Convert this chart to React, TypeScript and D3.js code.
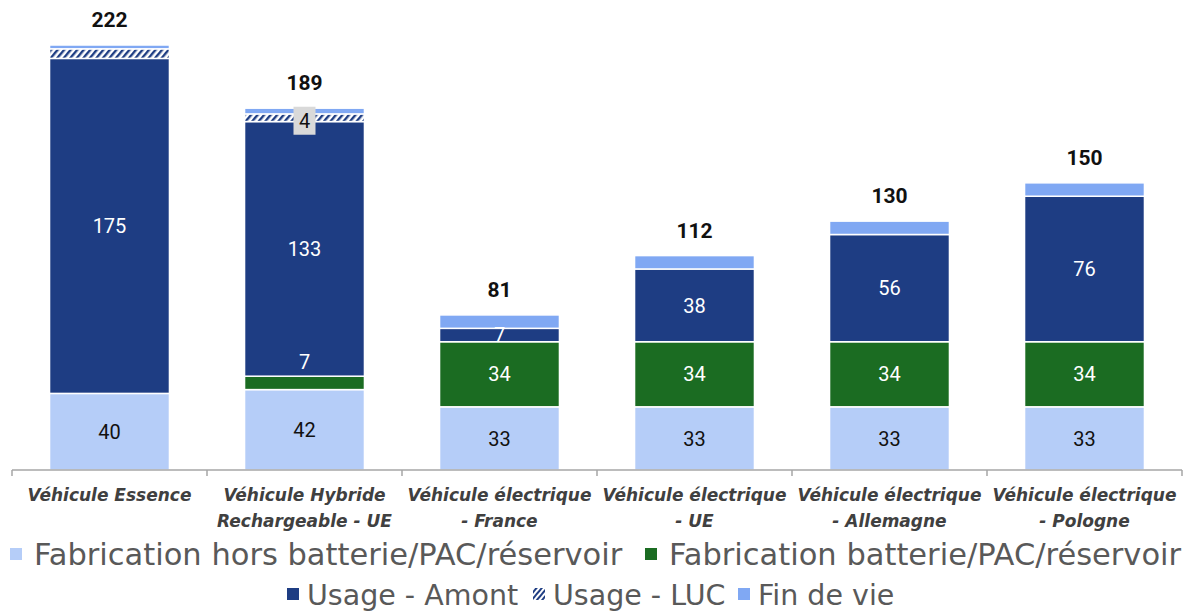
import React from "react";
import * as d3 from "d3";

const categories: string[][] = [
  ["Véhicule Essence"],
  ["Véhicule Hybride", "Rechargeable - UE"],
  ["Véhicule électrique", "- France"],
  ["Véhicule électrique", "- UE"],
  ["Véhicule électrique", "- Allemagne"],
  ["Véhicule électrique", "- Pologne"],
];
const fabrication = [40, 42, 33, 33, 33, 33];
const batterie = [0, 7, 34, 34, 34, 34];
const amont = [175, 133, 7, 38, 56, 76];
const luc = [5, 4, 0, 0, 0, 0];
const finDeVie = [2, 3, 7, 7, 7, 7];
const totals = [222, 189, 81, 112, 130, 150];
const lucLabels = [null, 4, null, null, null, null];

const seriesNames = [
  "Fabrication hors batterie/PAC/réservoir",
  "Fabrication batterie/PAC/réservoir",
  "Usage - Amont",
  "Usage - LUC",
  "Fin de vie",
];

const C_FAB = "#b5cdf8";
const C_BAT = "#1b6c22";
const C_AMONT = "#1e3d83";
const C_FIN = "#80a8f3";

export default function App() {
  const W = 1195;
  const H = 613;
  const x = d3
    .scaleBand<number>()
    .domain(d3.range(categories.length))
    .range([12, 1182])
    .paddingInner(0.385)
    .paddingOuter(0.385 / 2);
  const y = d3.scaleLinear().domain([0, 222]).range([470, 45]);

  const series = [
    { key: "fab", values: fabrication, fill: C_FAB, label: true, color: "#111" },
    { key: "bat", values: batterie, fill: C_BAT, label: true, color: "#fff" },
    { key: "amont", values: amont, fill: C_AMONT, label: true, color: "#fff" },
    { key: "luc", values: luc, fill: "url(#hatch)", label: false, color: "#111" },
    { key: "fin", values: finDeVie, fill: C_FIN, label: false, color: "#111" },
  ];

  const stack = d3
    .stack<number>()
    .keys(series.map((s, i) => String(i)))
    .value((d, k) => series[+k].values[d]);
  const stacked = stack(d3.range(categories.length));

  const step = x.step();
  const bw = x.bandwidth();

  const legendItems = [
    { name: seriesNames[0], fill: C_FAB, mx: 10, row: 0 },
    { name: seriesNames[1], fill: C_BAT, mx: 645, row: 0 },
    { name: seriesNames[2], fill: C_AMONT, mx: 287, row: 1 },
    { name: seriesNames[3], fill: "url(#hatchL)", mx: 533, row: 1 },
    { name: seriesNames[4], fill: C_FIN, mx: 738, row: 1 },
  ];

  return (
    <svg
      width={W}
      height={H}
      style={{ position: "absolute", left: 0, top: 0, background: "#fff" }}
    >
      <defs>
        <pattern
          id="hatch"
          patternUnits="userSpaceOnUse"
          width={5}
          height={5}
          patternTransform="rotate(40)"
        >
          <rect width={5} height={5} fill="#fff" />
          <rect width={2.4} height={5} fill={C_AMONT} />
        </pattern>
        <pattern
          id="hatchL"
          patternUnits="userSpaceOnUse"
          width={4}
          height={4}
          patternTransform="rotate(40)"
        >
          <rect width={4} height={4} fill="#fff" />
          <rect width={2} height={4} fill={C_AMONT} />
        </pattern>
      </defs>

      {stacked.map((layer, si) => (
        <g key={si}>
          {layer.map((d, i) => {
            const v = series[si].values[i];
            if (!v) return null;
            const y0 = y(d[0]);
            const y1 = y(d[1]);
            return (
              <rect
                key={i}
                x={x(i)}
                y={y1}
                width={bw}
                height={y0 - y1}
                fill={series[si].fill}
                stroke="#fff"
                strokeWidth={1.5}
              />
            );
          })}
        </g>
      ))}

      {/* segment labels */}
      {stacked.map((layer, si) =>
        series[si].label
          ? layer.map((d, i) => {
              const v = series[si].values[i];
              if (!v) return null;
              const y0 = y(d[0]);
              const y1 = y(d[1]);
              let cy = (y0 + y1) / 2;
              if (series[si].key === "bat" && y0 - y1 < 20) cy = y1 - 14;
              return (
                <text
                  key={si + "-" + i}
                  x={(x(i) as number) + bw / 2}
                  y={cy}
                  dy="0.36em"
                  textAnchor="middle"
                  fontFamily="Roboto, sans-serif"
                  fontSize={20}
                  fill={series[si].color}
                >
                  {v}
                </text>
              );
            })
          : null
      )}

      {/* LUC label with box */}
      {stacked[3].map((d, i) => {
        const lab = lucLabels[i];
        if (lab == null) return null;
        const cy = (y(d[0]) + y(d[1])) / 2 + 3;
        const cx = (x(i) as number) + bw / 2;
        return (
          <g key={"luc" + i}>
            <rect x={cx - 11} y={cy - 14} width={22} height={28} fill="#d9d9d9" />
            <text
              x={cx}
              y={cy}
              dy="0.36em"
              textAnchor="middle"
              fontFamily="Roboto, sans-serif"
              fontSize={20}
              fill="#111"
            >
              {lab}
            </text>
          </g>
        );
      })}

      {/* totals */}
      {totals.map((t, i) => (
        <text
          key={"t" + i}
          x={(x(i) as number) + bw / 2}
          y={y(t) - 18}
          textAnchor="middle"
          fontFamily="Roboto, sans-serif"
          fontWeight="bold"
          fontSize={21}
          fill="#111"
        >
          {t}
        </text>
      ))}

      {/* axis */}
      <line x1={12} x2={1182} y1={y(0)} y2={y(0)} stroke="#a6a6a6" strokeWidth={1.5} />
      {d3.range(categories.length + 1).map((i) => {
        const tx = 12 + i * step;
        return (
          <line
            key={"tk" + i}
            x1={tx}
            x2={tx}
            y1={y(0)}
            y2={y(0) + 6}
            stroke="#a6a6a6"
            strokeWidth={1.5}
          />
        );
      })}
      {categories.map((lines, i) => (
        <text
          key={"c" + i}
          x={(x(i) as number) + bw / 2}
          textAnchor="middle"
          fontFamily="'DejaVu Sans', sans-serif"
          fontWeight="bold"
          fontStyle="italic"
          fontSize={17}
          fill="#404040"
        >
          {lines.map((l, j) => (
            <tspan key={j} x={(x(i) as number) + bw / 2} y={501 + j * 26}>
              {l}
            </tspan>
          ))}
        </text>
      ))}

      {/* legend */}
      {legendItems.map((it, k) => {
        const by = it.row === 0 ? 565 : 605;
        return (
          <g key={"lg" + k}>
            <rect x={it.mx} y={by - 17} width={12} height={12} fill={it.fill} />
            <text
              x={it.mx + (it.row === 0 ? 24 : 20)}
              y={by}
              fontFamily="'DejaVu Sans', sans-serif"
              fontSize={it.row === 0 ? 30.5 : 28.5}
              fill="#595959"
            >
              {it.name}
            </text>
          </g>
        );
      })}
    </svg>
  );
}
